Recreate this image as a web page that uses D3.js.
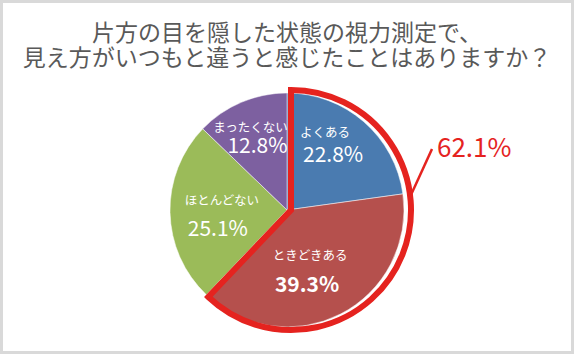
<!DOCTYPE html>
<html>
<head>
<meta charset="utf-8">
<script src="https://cdn.jsdelivr.net/npm/d3@7"></script>
<style>
  body { margin: 0; background: #fff; }
  text { font-family: "Noto Sans CJK JP", "Noto Sans", sans-serif; }
</style>
</head>
<body>
<div id="chart-area"></div>
<script>
var titleLines = ["片方の目を隠した状態の視力測定で、", "見え方がいつもと違うと感じたことはありますか？"];
var categories = ["よくある", "ときどきある", "ほとんどない", "まったくない"];
var values = [22.8, 39.3, 25.1, 12.8];
var colors = ["#4a7bb0", "#b5504d", "#9bbb59", "#7d60a0"];
var highlightLabel = "62.1%";

var width = 574, height = 354;
var cx = 287, cy = 210, radius = 117;

var svg = d3.select("#chart-area")
  .append("svg")
  .attr("width", width)
  .attr("height", height);

svg.append("rect")
  .attr("x", 1.5)
  .attr("y", 1.5)
  .attr("width", width - 3)
  .attr("height", height - 3)
  .attr("fill", "#fff")
  .attr("stroke", "#d9d9d9")
  .attr("stroke-width", 3);

svg.selectAll(".title")
  .data(titleLines)
  .enter()
  .append("text")
  .attr("class", "title")
  .attr("x", width / 2)
  .attr("y", (d, i) => 41 + i * 25)
  .attr("text-anchor", "middle")
  .attr("font-size", "23px")
  .attr("fill", "#595959")
  .text(d => d);

var data = categories.map((c, i) => ({ name: c, value: values[i], color: colors[i] }));

var pie = d3.pie()
  .sort(null)
  .value(d => d.value);

var arcs = pie(data);

var arc = d3.arc()
  .innerRadius(0)
  .outerRadius(radius);

var g = svg.append("g")
  .attr("transform", "translate(" + cx + "," + cy + ")");

g.selectAll("path.slice")
  .data(arcs)
  .enter()
  .append("path")
  .attr("class", "slice")
  .attr("d", arc)
  .attr("fill", d => d.data.color)
  .attr("stroke", "#fff")
  .attr("stroke-width", 0.5);

// labels placed around each slice's point at 0.6 radius
var labelArc = d3.arc()
  .innerRadius(radius * 0.6)
  .outerRadius(radius * 0.6);
var nameShift = [[-8, -25], [-9, -17], [5, -11], [-9, -18]];
var valueShift = [[0, -3], [-12, 12], [1, 17], [-2, 0]];

arcs.forEach((d, i) => {
  var c = labelArc.centroid(d);
  var big = i === 1;
  g.append("text")
    .attr("x", c[0] + nameShift[i][0])
    .attr("y", c[1] + nameShift[i][1] + 4.5)
    .attr("text-anchor", "middle")
    .attr("font-size", "12.5px")
    .attr("fill", "#fff")
    .text(d.data.name);
  g.append("text")
    .attr("x", c[0] + valueShift[i][0])
    .attr("y", c[1] + valueShift[i][1] + 7.5)
    .attr("text-anchor", "middle")
    .attr("font-family", "'Open Sans', sans-serif")
    .attr("font-size", "21px")
    .attr("font-weight", big ? "bold" : "normal")
    .attr("fill", "#fff")
    .text(d3.format(".1f")(d.data.value) + "%");
});

// highlight outline for よくある + ときどきある
var hl = { startAngle: arcs[0].startAngle, endAngle: arcs[1].endAngle };
var hlArc = d3.arc()
  .innerRadius(0)
  .outerRadius(radius + 3);

g.append("path")
  .attr("d", hlArc(hl))
  .attr("transform", "translate(4,0)")
  .attr("fill", "none")
  .attr("stroke", "#e5231f")
  .attr("stroke-width", 6)
  .attr("stroke-linejoin", "miter");

var la = Math.PI * 0.46;
var p0 = [Math.sin(la) * (radius + 4) + 4, -Math.cos(la) * (radius + 4)];
g.append("line")
  .attr("x1", p0[0])
  .attr("y1", p0[1])
  .attr("x2", 145)
  .attr("y2", -61)
  .attr("stroke", "#e5231f")
  .attr("stroke-width", 2.5);

g.append("text")
  .attr("x", 150)
  .attr("y", -53)
  .attr("font-family", "'Open Sans', sans-serif")
  .attr("font-size", "26px")
  .attr("fill", "#e5231f")
  .text(highlightLabel);
</script>
</body>
</html>
